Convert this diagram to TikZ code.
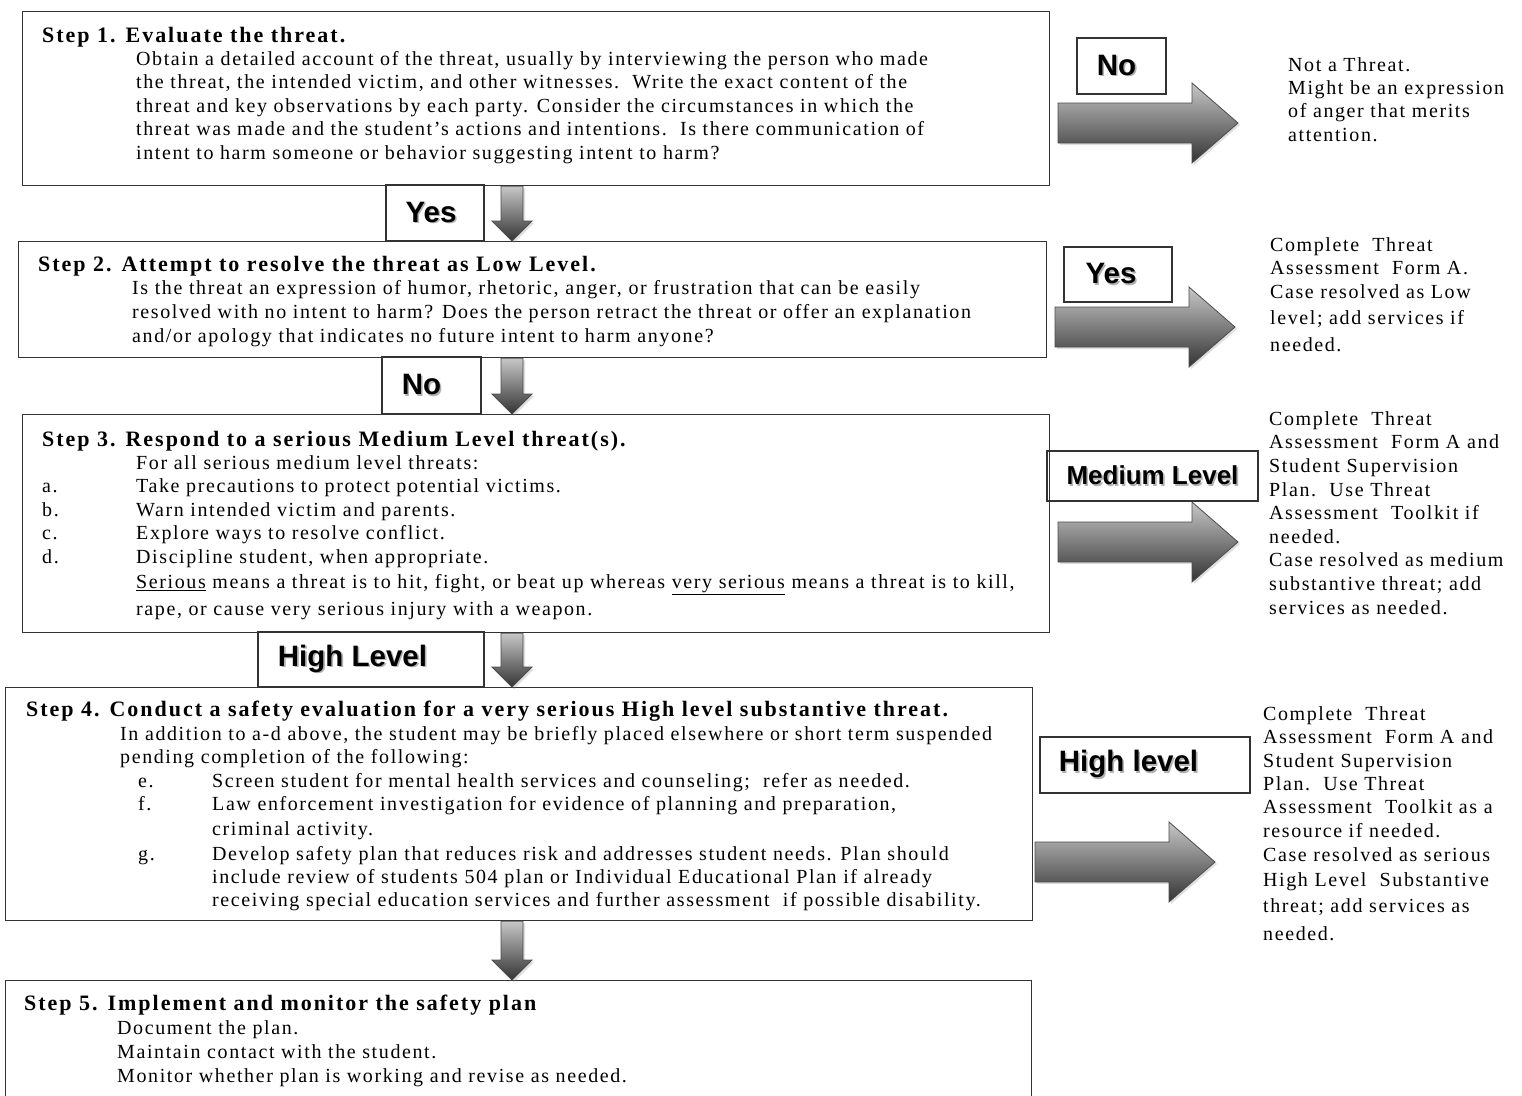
\documentclass[tikz,border=0pt]{standalone}
\usepackage{fontspec}
\setmainfont{Liberation Serif}
\newfontfamily\bodyfont[LetterSpace=8]{Liberation Serif}
\newfontfamily\headfont[LetterSpace=9]{Liberation Serif}
\newfontfamily\labelfont{Liberation Sans}
\usetikzlibrary{calc,shadows}

% label text with a soft grey shadow
\newcommand{\shadowlbl}[1]{\rlap{\kern1.6pt\raisebox{-1.6pt}{\textcolor{black!30}{#1}}}#1}
% fixed height for the first line of a text block
\newcommand{\fs}{\rule{0pt}{16pt}}

% block arrows between a start point and a tip
\newcommand{\fatright}[2]{%
  \path[fatarrow] let \p1=(#1), \p2=(#2) in
    (\x1,\y1+20pt) -- (\x2-46pt,\y1+20pt) -- (\x2-46pt,\y1+40pt) -- (\x2,\y1)
    -- (\x2-46pt,\y1-40pt) -- (\x2-46pt,\y1-20pt) -- (\x1,\y1-20pt) -- cycle;}
\newcommand{\fatdown}[2]{%
  \path[fatarrow] let \p1=(#1), \p2=(#2) in
    (\x1-11pt,\y1) -- (\x1+11pt,\y1) -- (\x1+11pt,\y2+20pt) -- (\x1+20pt,\y2+20pt)
    -- (\x1,\y2) -- (\x1-20pt,\y2+20pt) -- (\x1-11pt,\y2+20pt) -- cycle;}

\tikzset{
  stepbox/.style={draw=black!80, line width=1.3pt, rectangle, anchor=north west, inner sep=0pt},
  labelbox/.style={draw=black!80, line width=1.2pt, rectangle, inner sep=0pt,
    font=\labelfont\bfseries\fontsize{29.5}{32}\selectfont},
  headtext/.style={anchor=base west, inner sep=0pt, font=\headfont\bfseries\fontsize{22}{24}\selectfont},
  steptext/.style={anchor=north west, inner sep=0pt, align=left,
    font=\bodyfont\fontsize{20}{23.5}\selectfont},
  resulttext/.style={steptext, font=\bodyfont\fontsize{20}{23.5}\selectfont},
  fatarrow/.style={draw=black!70, line width=0.8pt, top color=black!22, bottom color=black!80,
    drop shadow={opacity=0.25, shadow xshift=2pt, shadow yshift=-2pt}}
}

\begin{document}
\begin{tikzpicture}[x=1pt,y=-1pt]
\useasboundingbox (0,0) rectangle (1522,1095);
\clip (0,0) rectangle (1522,1095);

% the five steps
\node[stepbox, minimum width=1027pt, minimum height=174pt] (s1) at (22,11) {};
\node[stepbox, minimum width=1028pt, minimum height=116pt] (s2) at (18,241) {};
\node[stepbox, minimum width=1027pt, minimum height=218pt] (s3) at (22,414) {};
\node[stepbox, minimum width=1027pt, minimum height=233pt] (s4) at (5,687) {};
\node[stepbox, minimum width=1026pt, minimum height=140pt] (s5) at (5,980) {};

\node[headtext] (h1) at (42,42) {Step 1. Evaluate the threat.};
\node[steptext] (b1) at (136,49) {\fs Obtain a detailed account of the threat, usually by interviewing the person who made\\
  the threat, the intended victim, and other witnesses.\ \ Write the exact content of the\\
  threat and key observations by each party. Consider the circumstances in which the\\
  threat was made and the student’s actions and intentions.\ \ Is there communication of\\
  intent to harm someone or behavior suggesting intent to harm?};

\node[headtext] (h2) at (38,271) {Step 2. Attempt to resolve the threat as Low Level.};
\node[steptext, font=\bodyfont\fontsize{20}{24}\selectfont] (b2) at (132,278) {\fs Is the threat an expression of humor, rhetoric, anger, or frustration that can be easily\\
  resolved with no intent to harm? Does the person retract the threat or offer an explanation\\
  and/or apology that indicates no future intent to harm anyone?};

\node[headtext] (h3) at (42,446) {Step 3. Respond to a serious Medium Level threat(s).};
\node[steptext] (b3) at (136,453) {\fs For all serious medium level threats:\\
  Take precautions to protect potential victims.\\
  Warn intended victim and parents.\\
  Explore ways to resolve conflict.\\
  Discipline student, when appropriate.};
\foreach \lt [count=\i] in {a,b,c,d}
  \node[steptext] (l3\lt) at (42,453+23.5*\i) {\fs\lt.};
\node[steptext, font=\bodyfont\fontsize{20}{27}\selectfont] (n3) at (136,572)
  {\fs\underline{Serious} means a threat is to hit, fight, or beat up whereas \underline{very serious} means a threat is to kill,\\
  rape, or cause very serious injury with a weapon.};

\node[headtext] (h4) at (26,716.5) {Step 4. Conduct a safety evaluation for a very serious High level substantive threat.};
\node[steptext, font=\bodyfont\fontsize{20}{23}\selectfont] (b4) at (120,724) {\fs In addition to a-d above, the student may be briefly placed elsewhere or short term suspended\\
  pending completion of the following:};
\node[steptext] (l4e) at (138,771) {\fs e.};
\node[steptext] (l4f) at (138,794) {\fs f.};
\node[steptext] (i4) at (212,771) {\fs Screen student for mental health services and counseling;\ \ refer as needed.\\
  Law enforcement investigation for evidence of planning and preparation,\\[1.5pt]
  criminal activity.};
\node[steptext] (l4g) at (138,844) {\fs g.};
\node[steptext, font=\bodyfont\fontsize{20}{23}\selectfont] (j4) at (212,844) {\fs Develop safety plan that reduces risk and addresses student needs. Plan should\\
  include review of students 504 plan or Individual Educational Plan if already\\
  receiving special education services and further assessment\ \ if possible disability.};

\node[headtext] (h5) at (24,1010) {Step 5. Implement and monitor the safety plan};
\node[steptext, font=\bodyfont\fontsize{20}{24}\selectfont] (b5) at (117,1018) {\fs Document the plan.\\
  Maintain contact with the student.\\
  Monitor whether plan is working and revise as needed.};

% labels between the steps
\node[labelbox, minimum width=98pt, minimum height=56pt] (yes1) at (435,213) {\shadowlbl{Yes}\hspace*{8pt}};
\node[labelbox, minimum width=99pt, minimum height=57pt] (no2) at (431.5,385.5) {\shadowlbl{No}\hspace*{20pt}};
\node[labelbox, minimum width=226pt, minimum height=55pt] (high3) at (371,659.5) {\shadowlbl{High Level}\hspace*{37pt}};

\coordinate (ax) at (512,0);
\fatdown{s1.south -| ax}{s2.north -| ax}
\fatdown{s2.south -| ax}{s3.north -| ax}
\fatdown{s3.south -| ax}{s4.north -| ax}
\fatdown{s4.south -| ax}{s5.north -| ax}

% outcomes on the right
\node[labelbox, minimum width=89pt, minimum height=56pt] (noR) at (1121.5,66) {\shadowlbl{No}\hspace*{10pt}};
\node[labelbox, minimum width=108pt, minimum height=55pt] (yesR) at (1118,274.5) {\shadowlbl{Yes}\hspace*{14pt}};
\node[labelbox, minimum width=211pt, minimum height=50pt, font=\labelfont\bfseries\fontsize{26}{30}\selectfont] (medR) at (1152.5,476) {\shadowlbl{Medium Level}};
\node[labelbox, minimum width=210pt, minimum height=56pt] (highR) at (1145,765) {\shadowlbl{High level}\hspace*{33pt}};

\coordinate (a1s) at (1058,123);  \coordinate (a1t) at (1238,123);
\coordinate (a2s) at (1055,327);  \coordinate (a2t) at (1235,327);
\coordinate (a3s) at (1058,542);  \coordinate (a3t) at (1238,542);
\coordinate (a4s) at (1035,862);  \coordinate (a4t) at (1215,862);
\fatright{a1s}{a1t}
\fatright{a2s}{a2t}
\fatright{a3s}{a3t}
\fatright{a4s}{a4t}

\node[resulttext, font=\bodyfont\fontsize{20}{23.3}\selectfont] (r1) at (1288,55) {\fs Not a Threat.\\Might be an expression\\of anger that merits\\attention.};
\node[resulttext] (r2) at (1270,235) {\fs Complete\ \ Threat\\Assessment\ \ Form A.\\Case resolved as Low\\[3pt]level; add services if\\[3pt]needed.};
\node[resulttext, font=\bodyfont\fontsize{20}{23.6}\selectfont] (r3) at (1269,409) {\fs Complete\ \ Threat\\Assessment\ \ Form A and\\Student Supervision\\Plan.\ \ Use Threat\\Assessment\ \ Toolkit if\\needed.\\Case resolved as medium\\substantive threat; add\\services as needed.};
\node[resulttext, font=\bodyfont\fontsize{20}{23.4}\selectfont] (r4) at (1263,704) {\fs Complete\ \ Threat\\Assessment\ \ Form A and\\Student Supervision\\Plan.\ \ Use Threat\\Assessment\ \ Toolkit as a\\resource if needed.\\[1pt]Case resolved as serious\\[1.5pt]High Level\ \ Substantive\\[3pt]threat; add services as\\[4pt]needed.};
\end{tikzpicture}
\end{document}
